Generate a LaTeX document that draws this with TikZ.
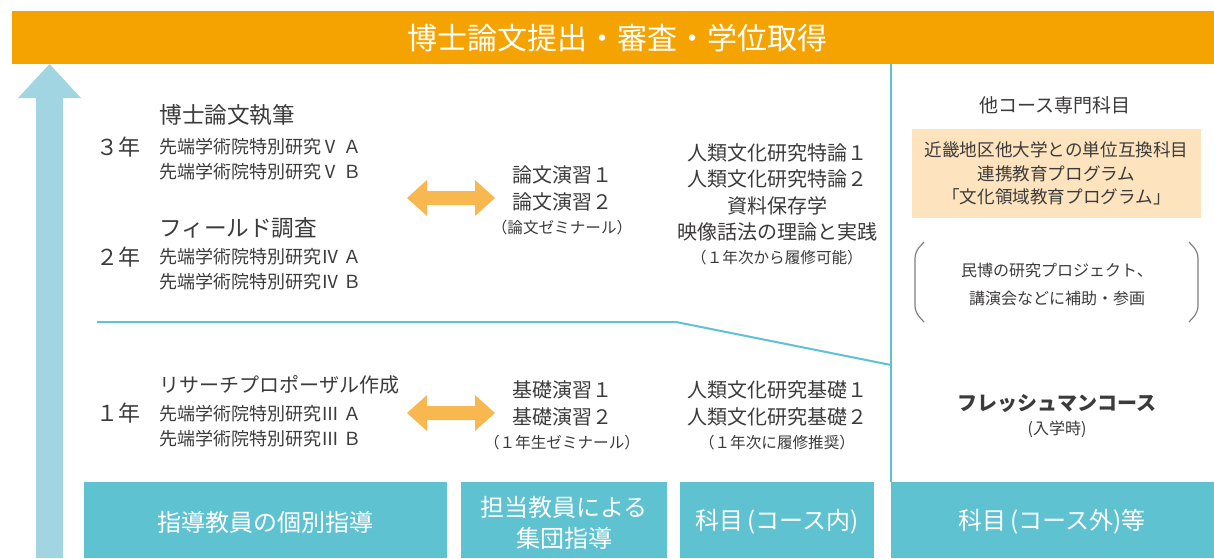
\documentclass[tikz,border=0pt]{standalone}
\usepackage{fontspec}
\setmainfont{Noto Sans CJK JP}
\usetikzlibrary{calc}
\definecolor{barorange}{HTML}{F5A300}
\definecolor{pairorange}{HTML}{F8B84F}
\definecolor{peach}{HTML}{FDE4BF}
\definecolor{boxteal}{HTML}{5FC2D1}
\definecolor{lineteal}{HTML}{5BC3D3}
\definecolor{riseblue}{HTML}{A0D5E1}
\definecolor{ink}{HTML}{3C3A3A}
\def\twowayarrow(#1,#2){\fill[pairorange] ($(#1,#2)+(-44,0)$) -- ++(20,-18) -- ++(0,11) -- ++(48,0) -- ++(0,-11) -- ++(20,18) -- ++(-20,18) -- ++(0,-11) -- ++(-48,0) -- ++(0,11) -- cycle;}
\def\fsz#1#2{\fontsize{#1}{#2}\selectfont}

\begin{document}
\begin{tikzpicture}[x=0.5pt, y=-0.5pt, every node/.style={inner sep=0pt, text=ink},
		head/.style={anchor=west, font=\fsz{11.3}{13}},
		course/.style={anchor=west, align=left, font=\fsz{9}{12.5}},
		year/.style={font=\fsz{11}{13}},
		subject/.style={align=center, font=\fsz{10}{13.3}},
		note/.style={font=\fsz{7.8}{9}},
		boxlabel/.style={text=white, align=center, font=\fsz{12}{15.5}}]
			%%%%% START %%%%%
			\useasboundingbox (0,0) rectangle (1214,558);
			
			\fill[barorange] (12,11) rectangle (1214,64);
			\node[text=white, font=\fsz{15}{17}] (title) at (617,38) {博士論文提出・審査・学位取得};
			
			\fill[riseblue] (36,558) -- (36,98) -- (18,98) -- (49.5,64) -- (81,98) -- (63,98) -- (63,558) -- cycle;
			
			\draw[line width=1pt, color=lineteal] (891,64) -- (891,482);
			\draw[line width=1pt, color=lineteal] (97,322) -- (676,322) -- (891,365);
			
			% years 3 and 2
			\node[year] (y3) at (118,147) {３年};
			\node[head] (thesis) at (159,115) {博士論文執筆};
			\node[course] (adv5) at (159,159.5) {先端学術院特別研究Ⅴ Ａ\\先端学術院特別研究Ⅴ Ｂ};
			\node[year] (y2) at (118,257) {２年};
			\node[head] (field) at (159,228) {フィールド調査};
			\node[course] (adv4) at (159,269.5) {先端学術院特別研究Ⅳ Ａ\\先端学術院特別研究Ⅳ Ｂ};
			
			\twowayarrow(451,198)
			\node[subject, font=\fsz{10}{13.5}] (sem) at (562,188.5) {論文演習１\\論文演習２};
			\node[note] (semnote) at (562,228) {（論文ゼミナール）};
			
			\node[subject] (adv) at (777,192.5) {人類文化研究特論１\\人類文化研究特論２\\資料保存学\\映像話法の理論と実践};
			\node[note] (advnote) at (777,258) {（１年次から履修可能）};
			
			% year 1
			\node[year] (y1) at (118,413) {１年};
			\node[head, font=\fsz{10}{13}] (proposal) at (159,385) {リサーチプロポーザル作成};
			\node[course] (adv3) at (159,426.5) {先端学術院特別研究Ⅲ Ａ\\先端学術院特別研究Ⅲ Ｂ};
			
			\twowayarrow(451,413)
			\node[subject, font=\fsz{10}{13.5}] (basic) at (562,403.5) {基礎演習１\\基礎演習２};
			\node[note] (basicnote) at (562,443) {（１年生ゼミナール）};
			
			\node[subject, font=\fsz{10}{13.5}] (intro) at (777,403.5) {人類文化研究基礎１\\人類文化研究基礎２};
			\node[note] (intronote) at (777,443) {（１年次に履修推奨）};
			
			% outside the course
			\node[font=\fsz{9.5}{11}] (other) at (1055,105) {他コース専門科目};
			\fill[peach] (912,129) rectangle (1201,218);
			\node[align=center, font=\fsz{8.8}{11.8}] (exchange) at (1056.5,173.5) {近畿地区他大学との単位互換科目\\連携教育プログラム\\「文化領域教育プログラム」};
			
			\draw[line width=0.6pt, color=black!50, rounded corners=3pt] (924,242) -- (915,252) -- (915,312) -- (924,322);
			\draw[line width=0.6pt, color=black!50, rounded corners=3pt] (1189,242) -- (1198,252) -- (1198,312) -- (1189,322);
			\node[align=center, font=\fsz{8}{14}] (minpaku) at (1057,284) {民博の研究プロジェクト、\\講演会などに補助・参画};
			
			\node[font=\bfseries\fsz{10}{12}] (fresh) at (1057,403) {フレッシュマンコース};
			\node[font=\fsz{8}{9}] (freshnote) at (1057,429) {(入学時)};
			
			% bottom row
			\fill[boxteal] (84,482) rectangle (447,558);
			\node[boxlabel] (indiv) at (265.5,522) {指導教員の個別指導};
			\fill[boxteal] (461,482) rectangle (667,558);
			\node[boxlabel] (group) at (564,523) {担当教員による\\集団指導};
			\fill[boxteal] (680,482) rectangle (874,558);
			\node[boxlabel] (inside) at (777,522) {科目\,(コース内)};
			\fill[boxteal] (891,482) rectangle (1214,558);
			\node[boxlabel] (outside) at (1052,522) {科目\,(コース外)等};
			
			%%%%% END %%%%%
		\end{tikzpicture}
\end{document}
